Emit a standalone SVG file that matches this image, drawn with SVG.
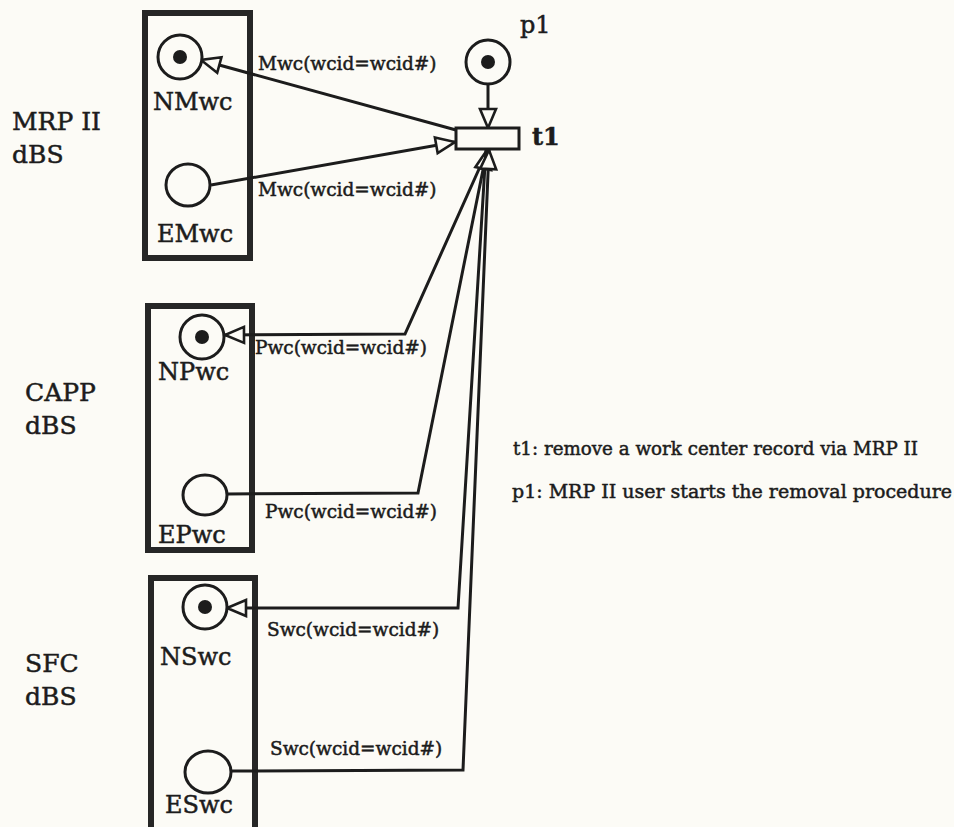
<svg xmlns="http://www.w3.org/2000/svg" width="954" height="827" viewBox="0 0 954 827">
<style>
text{font-family:"DejaVu Serif","Liberation Serif",serif;fill:#1c1c1c;stroke:#1c1c1c;stroke-width:0.5}
.box{fill:none;stroke:#262626;stroke-width:6}
.pl{fill:#fcfbf6;stroke:#1c1c1c;stroke-width:3}
.tok{fill:#1c1c1c}
.arc{fill:none;stroke:#1c1c1c;stroke-width:3;stroke-linejoin:miter;marker-end:url(#ah)}
.nl{font-size:24px}
.el{font-size:18.5px}
.gl{font-size:25px}
.nt{font-size:18.5px}
</style>
<defs>
<marker id="ah" markerUnits="userSpaceOnUse" markerWidth="26" markerHeight="22" viewBox="0 0 26 22" refX="22" refY="11" orient="auto">
<path d="M3,3 L22,11 L3,19 Z" fill="#fcfbf6" stroke="#1c1c1c" stroke-width="2.6" stroke-linejoin="miter"/>
</marker>
</defs>
<rect x="0" y="0" width="954" height="827" fill="#fcfbf6"/>

<g id="group-labels">
<text class="gl" x="12" y="130">MRP II</text>
<text class="gl" x="12" y="163">dBS</text>
<text class="gl" x="25" y="401">CAPP</text>
<text class="gl" x="25" y="434">dBS</text>
<text class="gl" x="25" y="672">SFC</text>
<text class="gl" x="25" y="705">dBS</text>
</g>

<g id="mrp-dbs"><rect class="box" x="145" y="13" width="105" height="245"/></g>
<g id="capp-dbs"><rect class="box" x="148" y="306" width="104" height="244"/></g>
<g id="sfc-dbs"><rect class="box" x="151" y="578" width="104" height="252"/></g>

<g id="connectors">
<path class="arc" d="M488,84 L488,128"/>
<path class="arc" d="M456,130 L201,60"/>
<path class="arc" d="M211,185 L455,142"/>
<path class="arc" d="M488,149 L405,334 L225,335"/>
<path class="arc" d="M227,494 L418,493 L487,150"/>
<path class="arc" d="M486,149 L458,608 L227,608"/>
<path class="arc" d="M231,771 L463,770 L489,150"/>
</g>

<g id="NMwc"><circle class="pl" cx="180" cy="57" r="22"/><circle class="tok" cx="180" cy="57" r="7"/><text class="nl" x="153" y="110">NMwc</text></g>
<g id="EMwc"><ellipse class="pl" cx="188" cy="185" rx="22" ry="21"/><text class="nl" x="157" y="242">EMwc</text></g>
<g id="NPwc"><circle class="pl" cx="202" cy="337" r="22"/><circle class="tok" cx="202" cy="337" r="7"/><text class="nl" x="158" y="380">NPwc</text></g>
<g id="EPwc"><ellipse class="pl" cx="205" cy="495" rx="22" ry="20"/><text class="nl" x="158" y="543">EPwc</text></g>
<g id="NSwc"><circle class="pl" cx="205" cy="607" r="22"/><circle class="tok" cx="205" cy="607" r="7"/><text class="nl" x="160" y="665">NSwc</text></g>
<g id="ESwc"><ellipse class="pl" cx="208" cy="772" rx="23" ry="21"/><text class="nl" x="165" y="813">ESwc</text></g>
<g id="p1"><circle class="pl" cx="488" cy="62" r="22"/><circle class="tok" cx="488" cy="62" r="7"/><text class="nl" x="520" y="33">p1</text></g>
<g id="t1"><rect x="456" y="128" width="63" height="21" fill="#fcfbf6" stroke="#1c1c1c" stroke-width="3"/><text class="nl" x="532" y="145" font-weight="bold">t1</text></g>

<g id="arc-labels">
<text class="el" x="258" y="70">Mwc(wcid=wcid#)</text>
<text class="el" x="258" y="196">Mwc(wcid=wcid#)</text>
<text class="el" x="255" y="354">Pwc(wcid=wcid#)</text>
<text class="el" x="265" y="518">Pwc(wcid=wcid#)</text>
<text class="el" x="267" y="636">Swc(wcid=wcid#)</text>
<text class="el" x="270" y="755">Swc(wcid=wcid#)</text>
</g>

<g id="notes">
<text class="nt" x="513" y="455" textLength="405" lengthAdjust="spacingAndGlyphs">t1: remove a work center record via MRP II</text>
<text class="nt" x="512" y="498" textLength="440" lengthAdjust="spacingAndGlyphs">p1: MRP II user starts the removal procedure</text>
</g>
</svg>
